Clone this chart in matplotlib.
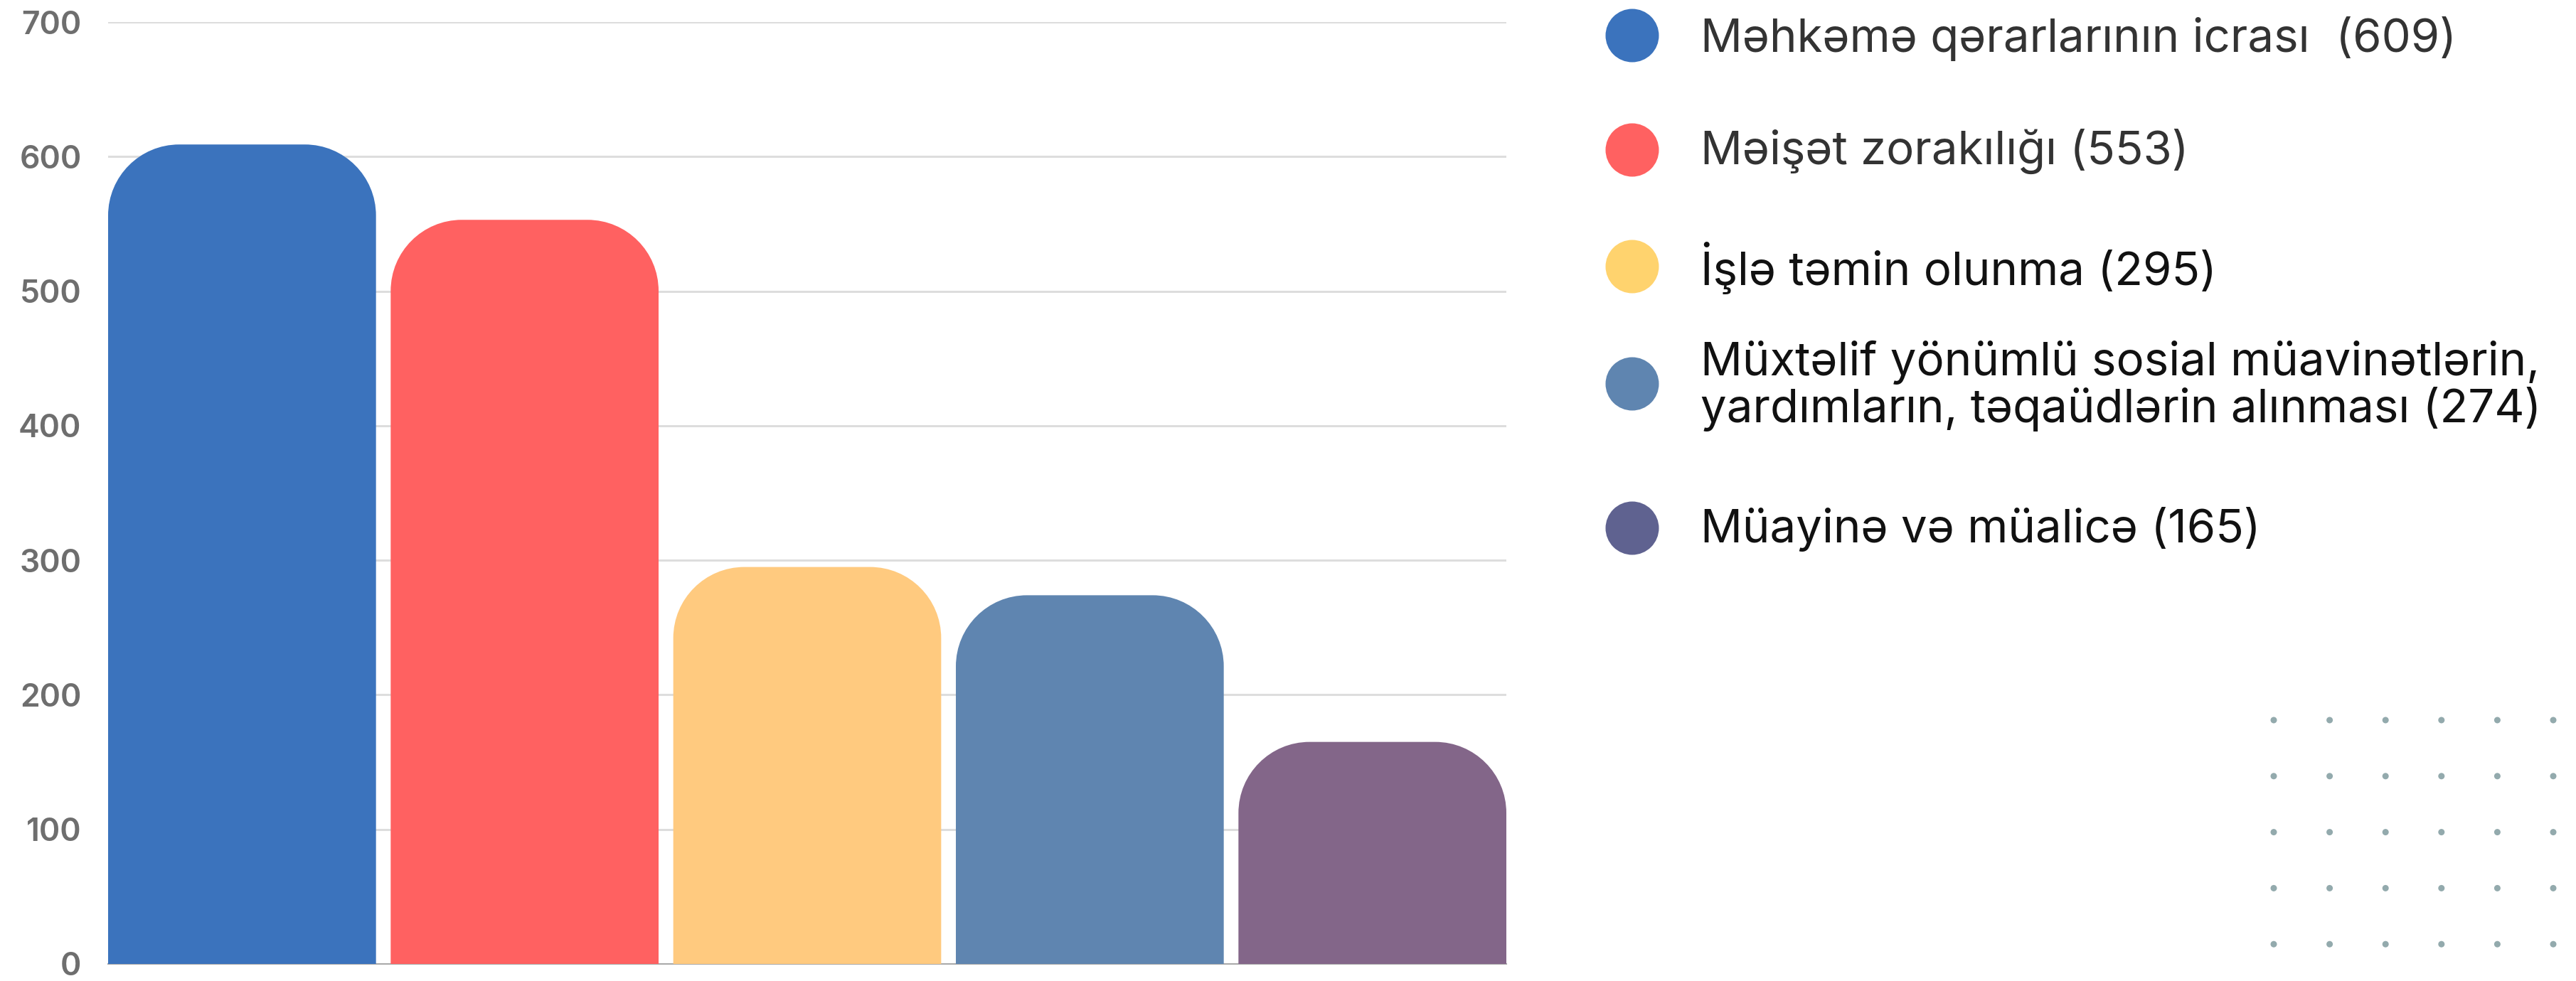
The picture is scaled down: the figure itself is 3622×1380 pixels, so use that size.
import numpy as np
import matplotlib
matplotlib.use("Agg")
import matplotlib.pyplot as plt
from matplotlib.path import Path
from matplotlib.patches import PathPatch

# data
labels = ["Məhkəmə qərarlarının icrası  (609)",
          "Məişət zorakılığı (553)",
          "İşlə təmin olunma (295)",
          "Müxtəlif yönümlü sosial müavinətlərin,\nyardımların, təqaüdlərin alınması (274)",
          "Müayinə və müalicə (165)"]
values = [609, 553, 295, 274, 165]
bar_colors = ["#3b73bd", "#ff6161", "#ffca7f", "#5f85b0", "#836689"]
legend_colors = ["#3b73bd", "#ff6161", "#ffd36e", "#5f85b0", "#5f6290"]
text_colors = ["#333333", "#333333", "#111111", "#111111", "#111111"]
yticks = [0, 100, 200, 300, 400, 500, 600, 700]

W, H, DPI = 3622, 1380, 100
fig = plt.figure(figsize=(W / DPI, H / DPI), dpi=DPI)

ax = fig.add_axes([152 / W, 24 / H, (2118 - 152) / W, (1356 - 31) / H])
bw = 0.948
x = np.arange(len(values))
ax.set_xlim(-bw / 2, len(values) - 1 + bw / 2)
ax.set_ylim(0, 700)

# corner radius 100px -> data units
px_x = (2118 - 152) / (len(values) - 1 + bw)
px_y = (1356 - 31) / 700.0
rx = 100 / px_x
ry = 100 / px_y
k = 0.5523


def rounded_bar(ax, xc, h, w, color):
    l, r = xc - w / 2, xc + w / 2
    ryy = min(ry, h)
    verts = [(l, 0), (l, h - ryy),
             (l, h - ryy + k * ryy), (l + rx - k * rx, h), (l + rx, h),
             (r - rx, h),
             (r - rx + k * rx, h), (r, h - ryy + k * ryy), (r, h - ryy),
             (r, 0), (l, 0)]
    codes = [Path.MOVETO, Path.LINETO,
             Path.CURVE4, Path.CURVE4, Path.CURVE4,
             Path.LINETO,
             Path.CURVE4, Path.CURVE4, Path.CURVE4,
             Path.LINETO, Path.CLOSEPOLY]
    ax.add_patch(PathPatch(Path(verts, codes), facecolor=color, edgecolor="none", zorder=3))


for xi, v, c in zip(x, values, bar_colors):
    rounded_bar(ax, xi, v, bw, c)

ax.set_yticks(yticks)
ax.set_yticklabels([str(t) for t in yticks], fontsize=32, color="#6e6e6e",
                   fontweight="semibold", family="Inter")
ax.tick_params(axis="y", length=0, pad=27)
ax.set_xticks([])
ax.grid(axis="y", color="#dddddd", linewidth=2.2, zorder=0)
for s in ["top", "right", "left"]:
    ax.spines[s].set_visible(False)
ax.spines["bottom"].set_color("#aaaaaa")
ax.spines["bottom"].set_linewidth(1.5)

# legend area in pixel coords
lax = fig.add_axes([0, 0, 1, 1])
lax.set_xlim(0, W)
lax.set_ylim(H, 0)
lax.axis("off")
lax.patch.set_alpha(0)
ys = [50, 211, 375, 540, 743]
text_ys = [54, 213, 377, 543, 745]
for yv, ty, lab, lc, tc in zip(ys, text_ys, labels, legend_colors, text_colors):
    lax.scatter([2295], [yv], s=(75 * 72 / DPI) ** 2, color=lc, edgecolors="none")
    lax.text(2391, ty, lab, fontsize=47, color=tc, family="Inter",
             va="center", ha="left", linespacing=1.07)

# decorative dot grid
gx, gy = np.meshgrid(3197 + 78.6 * np.arange(6), 1013 + 78.8 * np.arange(5))
lax.scatter(gx.ravel(), gy.ravel(), s=(9 * 72 / DPI) ** 2, color="#93aaad", edgecolors="none")

fig.savefig("out.png", dpi=DPI)
